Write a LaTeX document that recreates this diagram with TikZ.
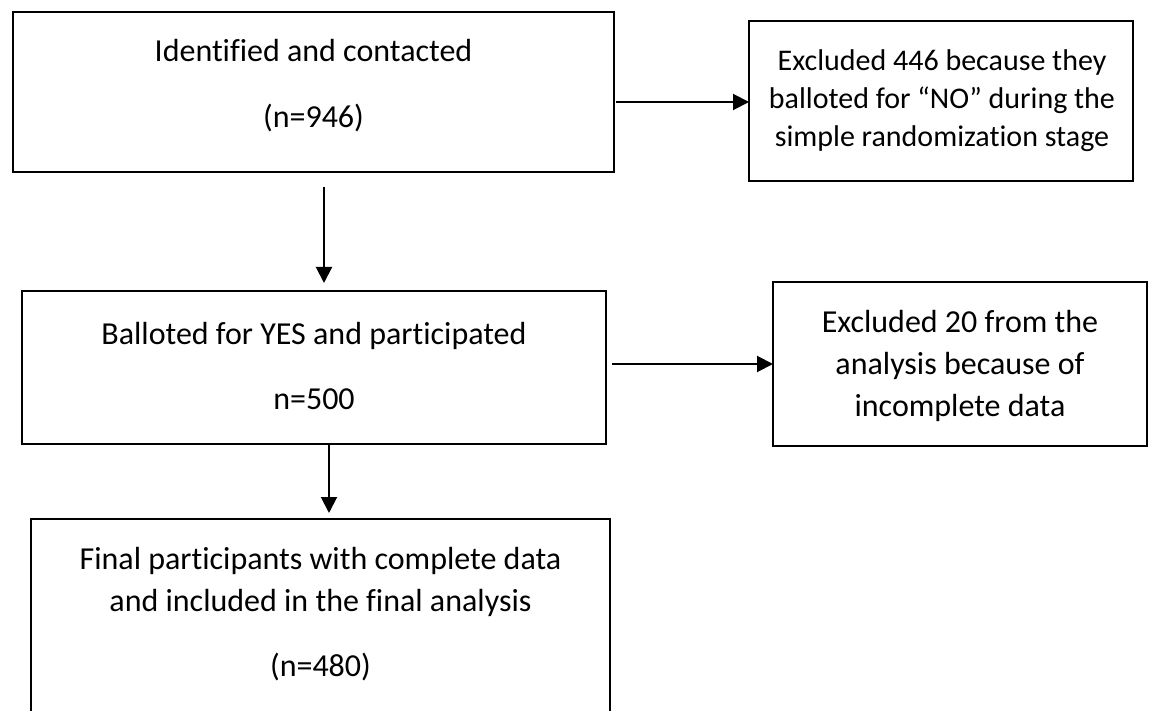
\documentclass[tikz,border=0pt]{standalone}
\usepackage{fontspec}
\setmainfont{Carlito}[Ligatures={NoCommon}]
\usetikzlibrary{arrows.meta}
\begin{document}
\begin{tikzpicture}[x=0.5pt,y=-0.5pt,
  box/.style={draw, line width=1pt, inner sep=0pt, outer sep=0pt},
  txt/.style={align=center, inner sep=0pt, font=\fontsize{16}{21}\selectfont},
  txtsmall/.style={align=center, inner sep=0pt, font=\fontsize{15}{19}\selectfont},
  arr/.style={-{Triangle[length=8pt,width=8pt]}, line width=1pt}]
\useasboundingbox (0,0) rectangle (1152,711);
\clip (0,0) rectangle (1152,711);
\fill[white] (0,0) rectangle (1152,711);
% boxes
\node[box, minimum width=300.5pt, minimum height=80pt] (b1) at (313.5,92) {};
\node[box, minimum width=292pt, minimum height=76.5pt] (b2) at (314,367.5) {};
\node[box, minimum width=289.5pt, minimum height=110.5pt] (b3) at (320.5,629.5) {};
\node[box, minimum width=192pt, minimum height=80pt] (r1) at (941,101) {};
\node[box, minimum width=187pt, minimum height=82pt] (r2) at (960,364) {};
% texts
\node[txt] (t1) at (313.5,86) {Identified and contacted\\[12pt](n=946)};
\node[txt] (t2) at (314,365.5) {Balloted for YES and participated\\[11.5pt]n=500};
\node[txt] (t3) at (320.5,614.5) {Final participants with complete data\\and included in the final analysis\\[11.5pt](n=480)};
\node[txtsmall] (tr1) at (942,101) {Excluded 446 because they\\balloted for “NO” during the\\simple randomization stage};
\node[txt] (tr2) at (960,366) {Excluded 20 from the\\analysis because of\\incomplete data};
% connectors
\draw[arr, shorten <=7.5pt, shorten >=4pt] ([xshift=5.25pt]b1.south) -- ([xshift=5.25pt]b1.south |- b2.north);
\draw[arr, shorten >=3pt] ([xshift=7.5pt]b2.south) -- ([xshift=7.5pt]b2.south |- b3.north);
\coordinate (s3) at ([yshift=-5pt]b1.east);
\draw[arr, shorten <=1pt] (s3) -- (s3 -| r1.west);
\coordinate (s4) at ([yshift=1.75pt]b2.east);
\draw[arr, shorten <=3pt] (s4) -- (s4 -| r2.west);
\end{tikzpicture}
\end{document}
